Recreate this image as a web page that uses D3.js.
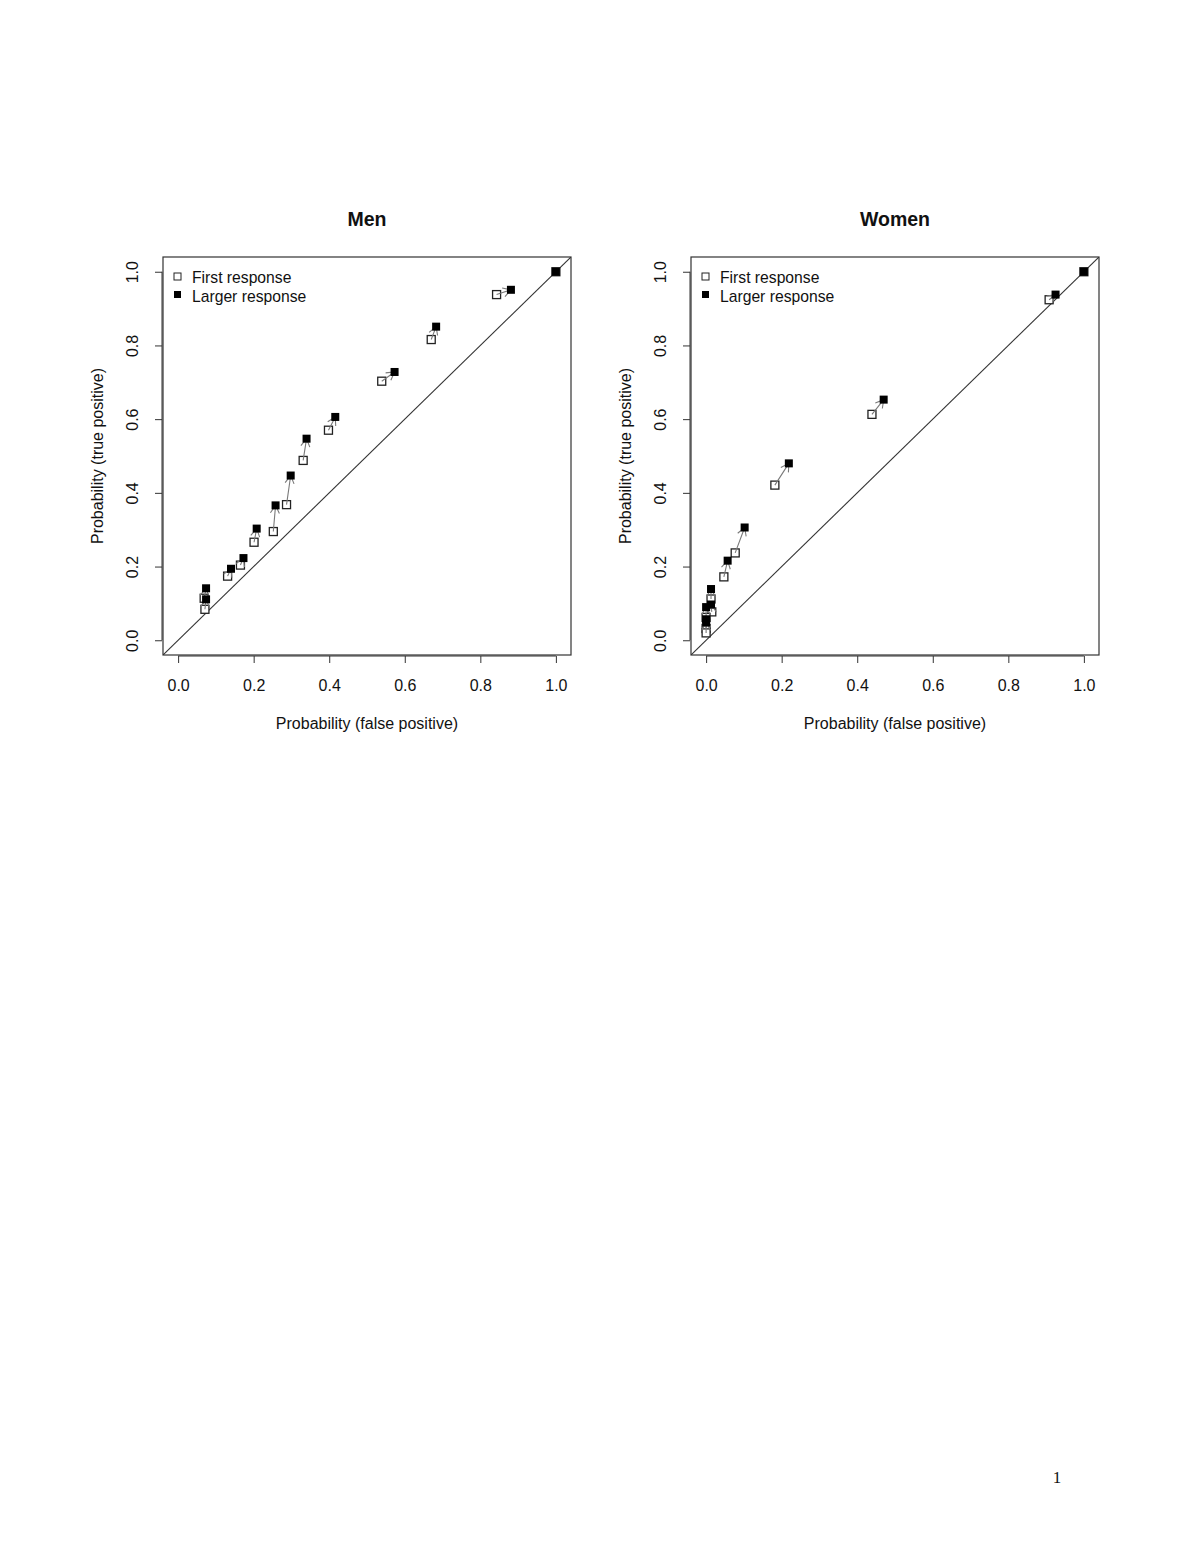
<!DOCTYPE html>
<html>
<head>
<meta charset="utf-8">
<script src="https://cdn.jsdelivr.net/npm/d3@7/dist/d3.min.js"></script>
<style>
  html, body { margin: 0; padding: 0; background: #fff; }
  svg { display: block; }
  text { font-family: "Liberation Sans", Arial, sans-serif; fill: #111; }
</style>
</head>
<body>
<svg id="chart" width="1200" height="1553"></svg>
<script>
// ---- Data ----
const panelTitles = ["Men", "Women"];
const tickValues = [0, 0.2, 0.4, 0.6, 0.8, 1.0];
const tickLabels = ["0.0", "0.2", "0.4", "0.6", "0.8", "1.0"];
const legendLabels = ["First response", "Larger response"];
const xAxisTitle = "Probability (false positive)";
const yAxisTitle = "Probability (true positive)";

// Men: first response (open) -> larger response (filled)
const menFirstX  = [0.071, 0.069, 0.131, 0.165, 0.201, 0.252, 0.287, 0.331, 0.398, 0.539, 0.670, 0.843, 1.0];
const menFirstY  = [0.084, 0.114, 0.174, 0.204, 0.266, 0.295, 0.368, 0.488, 0.570, 0.703, 0.816, 0.938, 1.0];
const menLargerX = [0.074, 0.074, 0.140, 0.173, 0.208, 0.258, 0.298, 0.340, 0.416, 0.573, 0.683, 0.881, 1.0];
const menLargerY = [0.111, 0.141, 0.194, 0.223, 0.303, 0.366, 0.447, 0.547, 0.606, 0.728, 0.851, 0.951, 1.0];

// Women: first response (open) -> larger response (filled)
const womenFirstX  = [0.013, 0.015, 0.000, 0.000, 0.000, 0.047, 0.077, 0.182, 0.439, 0.908, 1.0];
const womenFirstY  = [0.112, 0.077, 0.062, 0.032, 0.020, 0.172, 0.237, 0.421, 0.613, 0.924, 1.0];
const womenLargerX = [0.013, 0.013, 0.000, 0.000, 0.000, 0.057, 0.102, 0.219, 0.470, 0.925, 1.0];
const womenLargerY = [0.139, 0.097, 0.090, 0.057, 0.048, 0.216, 0.306, 0.480, 0.653, 0.938, 1.0];

const pageNumber = "1";

// ---- Drawing ----
const svg = d3.select("#chart");
const defs = svg.append("defs");

const panels = [
  { title: panelTitles[0], left: 163, fx: menFirstX, fy: menFirstY, lx: menLargerX, ly: menLargerY },
  { title: panelTitles[1], left: 691, fx: womenFirstX, fy: womenFirstY, lx: womenLargerX, ly: womenLargerY }
];

const boxW = 408, boxTop = 257, boxH = 398;
const FONT = "'Liberation Sans', Arial, sans-serif";

panels.forEach((p, pi) => {
  const x = d3.scaleLinear().domain([-0.04, 1.04]).range([p.left, p.left + boxW]);
  const y = d3.scaleLinear().domain([-0.04, 1.04]).range([boxTop + boxH, boxTop]);
  const g = svg.append("g");

  const clipId = "clip" + pi;
  defs.append("clipPath").attr("id", clipId)
    .append("rect").attr("x", p.left).attr("y", boxTop).attr("width", boxW).attr("height", boxH);

  // title
  g.append("text")
    .attr("x", p.left + boxW / 2).attr("y", 219)
    .attr("text-anchor", "middle").attr("dominant-baseline", "central")
    .style("font-size", "19.5px").style("font-weight", "bold")
    .text(p.title);

  // x axis
  const xAxis = g.append("g").attr("transform", `translate(0,${boxTop + boxH + 1})`)
    .call(d3.axisBottom(x).tickValues(tickValues).tickFormat((d, i) => tickLabels[i]).tickSizeInner(7).tickSizeOuter(0).tickPadding(17));
  xAxis.select(".domain").attr("d", `M${x(0)},0H${x(1)}`).attr("stroke", "#333");
  xAxis.selectAll(".tick line").attr("stroke", "#333");
  xAxis.selectAll(".tick text").style("font-size", "16px").style("font-family", FONT).attr("fill", "#222");

  // y axis
  const yAxis = g.append("g").attr("transform", `translate(${p.left - 1},0)`)
    .call(d3.axisLeft(y).tickValues(tickValues).tickFormat((d, i) => tickLabels[i]).tickSizeInner(7).tickSizeOuter(0));
  yAxis.select(".domain").attr("d", `M0,${y(0)}V${y(1)}`).attr("stroke", "#333");
  yAxis.selectAll(".tick line").attr("stroke", "#333");
  yAxis.selectAll(".tick text")
    .attr("x", 0).attr("y", 0).attr("dy", null)
    .attr("transform", `translate(-30,0) rotate(-90)`)
    .attr("text-anchor", "middle").attr("dominant-baseline", "central")
    .style("font-size", "16px").style("font-family", FONT).attr("fill", "#222");

  // axis titles
  g.append("text")
    .attr("x", p.left + boxW / 2).attr("y", 723)
    .attr("text-anchor", "middle").attr("dominant-baseline", "central")
    .style("font-size", "16px")
    .text(xAxisTitle);
  g.append("text")
    .attr("transform", `translate(${p.left - 66},${boxTop + boxH / 2}) rotate(-90)`)
    .attr("text-anchor", "middle").attr("dominant-baseline", "central")
    .style("font-size", "16px")
    .text(yAxisTitle);

  // box
  g.append("rect")
    .attr("x", p.left).attr("y", boxTop).attr("width", boxW).attr("height", boxH)
    .attr("fill", "none").attr("stroke", "#333").attr("stroke-width", 1.2);

  const plot = g.append("g").attr("clip-path", `url(#${clipId})`);

  // diagonal
  plot.append("line")
    .attr("x1", x(-0.04)).attr("y1", y(-0.04)).attr("x2", x(1.04)).attr("y2", y(1.04))
    .attr("stroke", "#333").attr("stroke-width", 1.1);

  const idx = d3.range(p.fx.length);
  const s = 8;

  // open squares (first response)
  plot.selectAll(".open").data(idx).join("rect")
    .attr("x", i => x(p.fx[i]) - s / 2).attr("y", i => y(p.fy[i]) - s / 2)
    .attr("width", s).attr("height", s)
    .attr("fill", "#fff").attr("stroke", "#222").attr("stroke-width", 1.3);

  // arrows
  const headLen = 9, headAng = Math.PI / 6;
  idx.forEach(i => {
    const x0 = x(p.fx[i]), y0 = y(p.fy[i]), x1 = x(p.lx[i]), y1 = y(p.ly[i]);
    const dx = x1 - x0, dy = y1 - y0;
    if (Math.hypot(dx, dy) < 1) return;
    const a = Math.atan2(dy, dx);
    const path = d3.path();
    path.moveTo(x0, y0); path.lineTo(x1, y1);
    path.moveTo(x1 - headLen * Math.cos(a - headAng), y1 - headLen * Math.sin(a - headAng));
    path.lineTo(x1, y1);
    path.lineTo(x1 - headLen * Math.cos(a + headAng), y1 - headLen * Math.sin(a + headAng));
    plot.append("path").attr("d", path.toString())
      .attr("fill", "none").attr("stroke", "#7a7a7a").attr("stroke-width", 1.1);
  });

  // filled squares (larger response)
  plot.selectAll(".filled").data(idx).join("rect")
    .attr("x", i => x(p.lx[i]) - s / 2).attr("y", i => y(p.ly[i]) - s / 2)
    .attr("width", s).attr("height", s)
    .attr("fill", "#000");

  // legend
  const lg = g.append("g");
  lg.append("rect").attr("x", p.left + 11).attr("y", 273).attr("width", 7).attr("height", 7)
    .attr("fill", "#fff").attr("stroke", "#222").attr("stroke-width", 1);
  lg.append("rect").attr("x", p.left + 11).attr("y", 291).attr("width", 7).attr("height", 7)
    .attr("fill", "#000");
  lg.append("text").attr("x", p.left + 29).attr("y", 277).attr("dominant-baseline", "central")
    .style("font-size", "15.7px").text(legendLabels[0]);
  lg.append("text").attr("x", p.left + 29).attr("y", 296).attr("dominant-baseline", "central")
    .style("font-size", "15.7px").text(legendLabels[1]);
});

svg.append("text")
  .attr("x", 1057).attr("y", 1477)
  .attr("text-anchor", "middle").attr("dominant-baseline", "central")
  .style("font-family", "'Liberation Serif', 'Times New Roman', serif").style("font-size", "17px")
  .text(pageNumber);
</script>
</body>
</html>
